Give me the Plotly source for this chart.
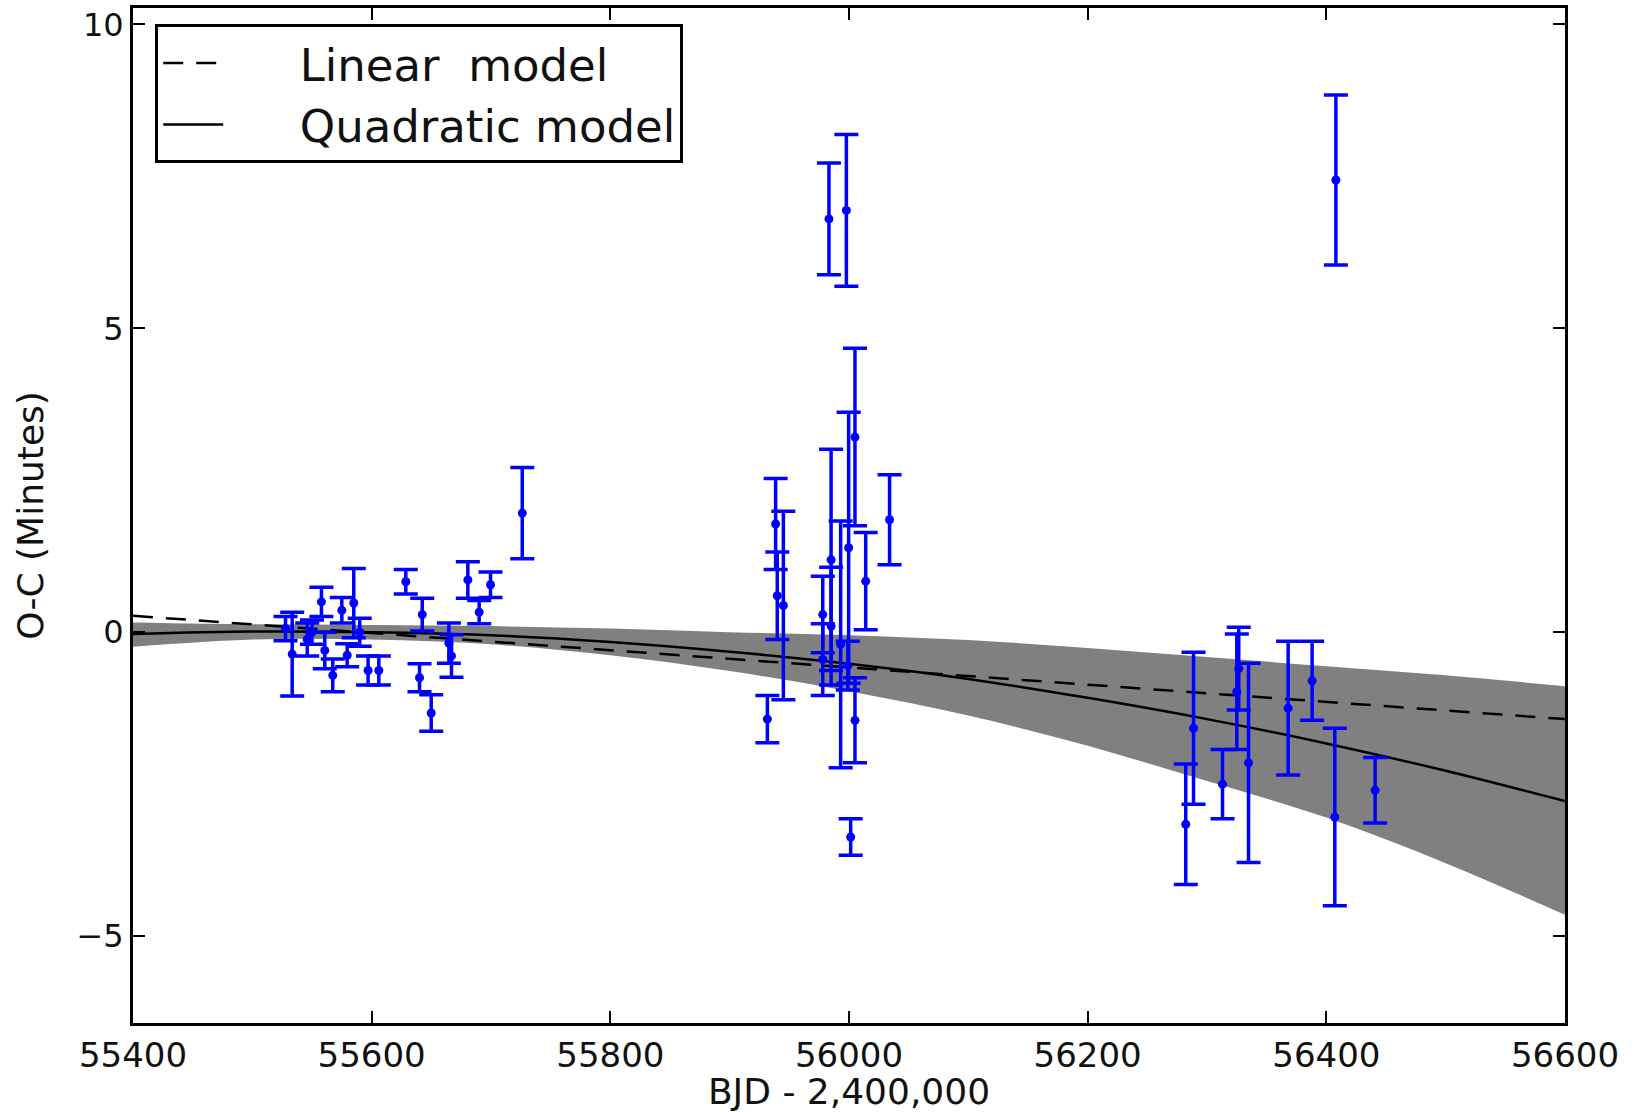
import plotly.graph_objects as go

# Observed O-C timings (BJD - 2,400,000), O-C in minutes, 1-sigma errors
bjd = [55527.8, 55533.4, 55546.0, 55550.0, 55557.9, 55560.7, 55567.4, 55575.0,
       55579.5, 55585.0, 55590.0, 55597.0, 55606.0, 55628.6, 55640.1, 55642.4,
       55649.9, 55664.7, 55666.9, 55680.6, 55690.1, 55699.6, 55726.2,
       55931.6, 55938.5, 55939.9, 55945.0, 55978.0, 55978.0, 55983.2, 55985.0,
       55985.0, 55993.0, 55997.8, 55999.7, 55999.0, 56001.4, 56005.0, 56005.0,
       56014.0, 56034.0,
       56282.2, 56288.7, 56313.0, 56325.0, 56326.6, 56334.8, 56368.0, 56388.1,
       56407.1, 56408.0, 56440.9]
oc = [0.06, -0.36, -0.12, 0.00, 0.50, -0.30, -0.71, 0.36,
      -0.38, 0.48, 0.00, -0.63, -0.63, 0.83, -0.75, 0.29,
      -1.33, -0.18, -0.39, 0.86, 0.33, 0.78, 1.96,
      -1.43, 1.78, 0.60, 0.44, 0.29, -0.45, 6.80, 1.19,
      0.10, -0.20, 6.94, 1.39, -0.55, -3.37, 3.21, -1.45,
      0.84, 1.85,
      -3.16, -1.58, -2.50, -0.98, -0.60, -2.15, -1.25, -0.80,
      -3.04, 7.44, -2.60]
oc_err = [0.20, 0.69, 0.27, 0.20, 0.24, 0.30, 0.27, 0.21,
          0.19, 0.57, 0.23, 0.24, 0.24, 0.20, 0.23, 0.27,
          0.30, 0.33, 0.35, 0.30, 0.19, 0.21, 0.75,
          0.39, 0.75, 0.72, 1.55, 0.63, 0.59, 0.92, 1.82,
          0.97, 2.03, 1.25, 2.23, 0.40, 0.30, 1.46, 0.70,
          0.80, 0.74,
          0.99, 1.25, 0.57, 0.95, 0.68, 1.64, 1.10, 0.65,
          1.46, 1.40, 0.54]

# Linear model
lin_x = [55400, 56600]
lin_y = [0.27, -1.43]

# Quadratic model and its uncertainty band
model_x = [55400, 55500, 55600, 55700, 55800, 55900, 56000,
           56100, 56200, 56300, 56400, 56500, 56600]
quad_y = [-0.03, 0.01, 0.00, -0.05, -0.16, -0.32, -0.52,
          -0.77, -1.08, -1.43, -1.83, -2.28, -2.78]
band_upper = [0.16, 0.13, 0.12, 0.10, 0.06, 0.00, -0.05,
              -0.13, -0.26, -0.41, -0.56, -0.71, -0.89]
band_lower = [-0.24, -0.12, -0.12, -0.20, -0.38, -0.64, -0.97,
              -1.37, -1.87, -2.45, -3.05, -3.80, -4.65]

x_ticks = [55400, 55600, 55800, 56000, 56200, 56400, 56600]
y_ticks = [-5, 0, 5, 10]

FONT = "DejaVu Sans"
NB = "\u00a0"

fig = go.Figure()

fig.add_trace(go.Scatter(x=model_x, y=band_upper, mode="lines",
                         line=dict(width=0, color="#808080", shape="spline"),
                         showlegend=False, hoverinfo="skip"))
fig.add_trace(go.Scatter(x=model_x, y=band_lower, mode="lines",
                         line=dict(width=0, color="#808080", shape="spline"),
                         fill="tonexty", fillcolor="#808080",
                         showlegend=False, hoverinfo="skip"))

fig.add_trace(go.Scatter(x=lin_x, y=lin_y, mode="lines",
                         name=NB * 5 + "Linear" + NB + " model",
                         line=dict(color="black", width=2.5, dash="20px,13px")))
fig.add_trace(go.Scatter(x=model_x, y=quad_y, mode="lines",
                         name=NB * 5 + "Quadratic model",
                         line=dict(color="black", width=2.5, shape="spline")))

fig.add_trace(go.Scatter(x=bjd, y=oc, mode="markers", showlegend=False,
                         marker=dict(color="#0000ff", size=9, symbol="circle"),
                         error_y=dict(type="data", array=oc_err, visible=True,
                                      color="#0000ff", thickness=3.5, width=12)))

axis_common = dict(showline=True, mirror="ticks", linecolor="black", linewidth=3,
                   ticks="inside", ticklen=12, tickwidth=2, tickcolor="black",
                   showgrid=False, zeroline=False, automargin=False)

fig.update_xaxes(range=[55400, 56600], tickvals=x_ticks,
                 ticktext=[str(v) for v in x_ticks],
                 tickfont=dict(family=FONT, size=34, color="#111"),
                 title=dict(text="BJD - 2,400,000", font=dict(family=FONT, size=36, color="#111"),
                            standoff=6),
                 **axis_common)
fig.update_yaxes(range=[-6.43, 10.27], tickvals=y_ticks,
                 tickfont=dict(family=FONT, size=32, color="#111"),
                 title=dict(text="O-C (Minutes)", font=dict(family=FONT, size=36, color="#111"),
                            standoff=22),
                 **axis_common)

fig.update_layout(
    width=1637, height=1112,
    margin=dict(l=133, r=72, t=8, b=89),
    paper_bgcolor="white", plot_bgcolor="white",
    font=dict(family=FONT, color="black"),
    legend=dict(x=0.0155, y=0.984, xanchor="left", yanchor="top",
                bordercolor="black", borderwidth=3, bgcolor="white",
                font=dict(family=FONT, size=45, color="#111"),
                itemwidth=60, tracegroupgap=0, traceorder="normal"),
)

fig.write_html("out.html")
